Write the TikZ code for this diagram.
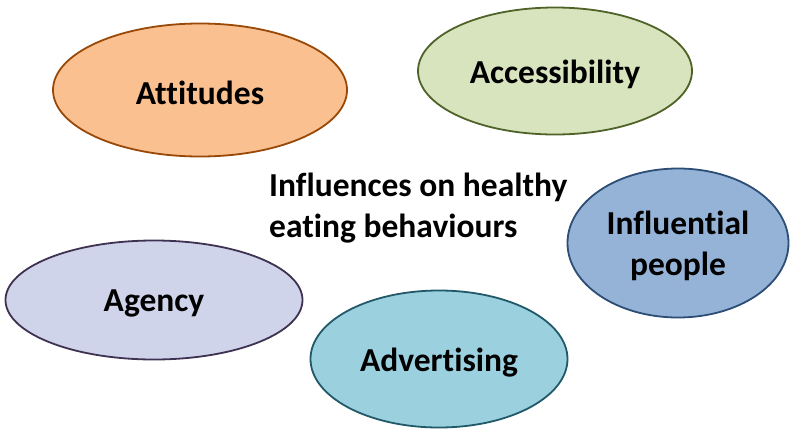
\documentclass[tikz,border=0pt]{standalone}
\usepackage{fontspec}
\setmainfont{Carlito}[Ligatures=NoCommon]
\usetikzlibrary{shapes.geometric}
\definecolor{attfill}{HTML}{FAC090}\definecolor{attdraw}{HTML}{984807}
\definecolor{accfill}{HTML}{D7E4BD}\definecolor{accdraw}{HTML}{4F6228}
\definecolor{inffill}{HTML}{95B3D7}\definecolor{infdraw}{HTML}{2C4D75}
\definecolor{agefill}{HTML}{D0D4EA}\definecolor{agedraw}{HTML}{3F3151}
\definecolor{advfill}{HTML}{9BD0DF}\definecolor{advdraw}{HTML}{215968}
\tikzset{
  blob/.style={ellipse, inner sep=0pt, line width=1.8pt},
  lbl/.style={inner sep=0pt, align=center,
    font=\fontsize{33.5}{41}\selectfont\bfseries},
  title/.style={inner sep=0pt, align=left, anchor=north west,
    font=\fontsize{33.5}{41}\selectfont\bfseries}
}
\begin{document}
\begin{tikzpicture}[x=1pt,y=-1pt]
\useasboundingbox (0,0) rectangle (790,429);
\node[blob, fill=attfill, draw=attdraw, minimum width=294pt, minimum height=133pt] (att) at (200,90) {};
\node[blob, fill=accfill, draw=accdraw, minimum width=274pt, minimum height=127pt] (acc) at (555,71) {};
\node[blob, fill=inffill, draw=infdraw, minimum width=221pt, minimum height=149pt] (inf) at (678,243) {};
\node[blob, fill=agefill, draw=agedraw, minimum width=297pt, minimum height=119pt] (age) at (154,300) {};
\node[blob, fill=advfill, draw=advdraw, minimum width=257pt, minimum height=137pt] (adv) at (439,359) {};
\node[lbl] (attl) at ([yshift=-2.5pt]att.center) {Attitudes};
\node[lbl] (accl) at ([yshift=-3.5pt]acc.center) {Accessibility};
\node[lbl] (infl) at ([yshift=-3pt]inf.center) {Influential\\people};
\node[lbl] (agel) at ([yshift=-3.5pt]age.center) {Agency};
\node[lbl] (advl) at ([yshift=-4pt]adv.center) {Advertising};
\node[title] (ttl) at (269,173) {Influences on healthy\\eating behaviours};
\end{tikzpicture}
\end{document}
